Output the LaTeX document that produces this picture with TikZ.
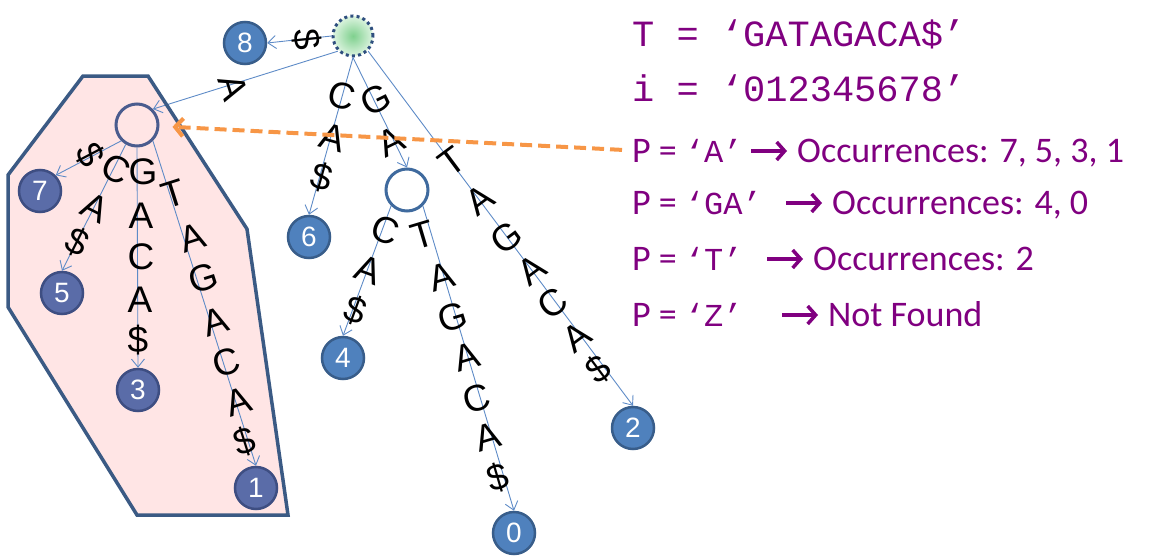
\documentclass[tikz,border=0pt]{standalone}
\usepackage{fontspec}
\setmainfont{Liberation Sans}
\newfontfamily\calib{Carlito}
\newfontfamily\monof{Liberation Mono}
\usetikzlibrary{arrows.meta}
\definecolor{leafblue}{HTML}{4F81BD}
\definecolor{leafborder}{HTML}{385D8A}
\definecolor{leafinblue}{HTML}{5A6CA8}
\definecolor{leafinborder}{HTML}{3E4E82}
\definecolor{edgeblue}{HTML}{5E8BC7}
\definecolor{inborder}{HTML}{3F6A9E}
\definecolor{inborderp}{HTML}{4A5C8E}
\definecolor{polyborder}{HTML}{3B5A84}
\definecolor{polyfill}{HTML}{FFE5E5}
\definecolor{orangeD}{HTML}{F79646}
\definecolor{txtpurple}{HTML}{800080}
\definecolor{rootin}{HTML}{7FD08E}
\definecolor{rootout}{HTML}{DDF4E0}
\definecolor{rootborder}{HTML}{2F4F7F}
\newcommand\mtx[1]{{\monof\fontsize{32}{32}\selectfont ‘#1’}}
\begin{document}
\begin{tikzpicture}[x=1pt,y=-1pt,
  leaf/.style={circle, draw=leafborder, line width=2.5pt, fill=leafblue, minimum size=42pt, inner sep=0pt, text=white, font=\fontsize{28}{28}\selectfont},
  leafin/.style={leaf, draw=leafinborder, fill=leafinblue},
  inode/.style={circle, draw=inborder, line width=3pt, fill=white, minimum size=42pt, inner sep=0pt},
  inodep/.style={inode, draw=inborderp, fill=polyfill},
  rootnode/.style={circle, shade, inner color=rootin, outer color=rootout, draw=rootborder, line width=3pt, dash pattern=on 3pt off 3.2pt, minimum size=40pt, inner sep=0pt},
  edge/.style={draw=edgeblue, line width=0.9pt, -{Straight Barb[length=8pt,width=13pt]}},
  lab/.style={inner sep=0pt, font=\fontsize{37}{37}\selectfont},
  txt/.style={inner sep=0pt, anchor=base west, text=txtpurple, font=\calib\fontsize{36}{36}\selectfont},
  parr/.style={draw=txtpurple, line width=3.5pt, -{Straight Barb[length=8pt,width=18pt]}},
  oarrow/.style={draw=orangeD, line width=4pt, dash pattern=on 12pt off 6pt, -{Straight Barb[length=8pt,width=18pt]}}
]
\useasboundingbox (0,0) rectangle (1149,557);

% highlighted subtree (background)
\fill[polyfill] (83,76) -- (148,76) -- (247,229) -- (288,515) -- (137,515) -- (8,307) -- (8,175) -- cycle;

% nodes
\node[rootnode] (root) at (353,36) {};
\node[inodep] (nA) at (137,125) {};
\node[inode] (nGA) at (407,190) {};
\node[leaf] (n8) at (245,43) {8};
\node[leafin] (n7) at (40,191) {7};
\node[leafin] (n5) at (62,293) {5};
\node[leafin] (n3) at (138,390) {3};
\node[leafin] (n1) at (256,488) {1};
\node[leaf] (n6) at (309,237) {6};
\node[leaf] (n4) at (343,358) {4};
\node[leaf] (n0) at (514,533) {0};
\node[leaf] (n2) at (633,428) {2};

% edges
\draw[edge] (root.west) -- (n8.east);
\draw[edge] (root.south west) -- (nA.north east);
\draw[edge] (root.south) -- (n6.north);
\draw[edge] (root.south) -- (nGA.north);
\draw[edge] (root.south east) -- (n2.north);
\draw[edge] (nA.south west) -- (n7.north east);
\draw[edge] (nA.240) -- (n5.north);
\draw[edge] (nA.south) -- (n3.north);
\draw[edge] (nA.south east) -- (n1.north);
\draw[edge] (nGA.south west) -- (n4.north);
\draw[edge] (nGA.south east) -- (n0.north);

% edge letters
\node[lab, rotate=-84] (ea1) at (307,39) {\$};
\node[lab, rotate=-72.6] (eb1) at (233,87) {A};
\foreach \c/\x/\y [count=\i] in {C/342/96, A/333/138, \$/322/177}
  \node[lab, rotate=-15.6] (ec\i) at (\x,\y) {\c};
\foreach \c/\x/\y [count=\i] in {G/376/100, A/391/142}
  \node[lab, rotate=26.1] (ed\i) at (\x,\y) {\c};
\foreach \c/\x/\y [count=\i] in {T/452/162, A/480/200, G/506/238, A/532/270, C/553/303, A/577/337, \$/598/369}
  \node[lab, rotate=36.7] (ee\i) at (\x,\y) {\c};
\node[lab, rotate=-62.4] (ef1) at (90,155) {\$};
\foreach \c/\x/\y [count=\i] in {C/116/169, A/95/208, \$/77/242}
  \node[lab, rotate=-26.7] (eg\i) at (\x,\y) {\c};
\foreach \c/\x/\y [count=\i] in {G/143/172, A/141/216, C/141/257, A/140/300, \$/138/340}
  \node[lab] (eh\i) at (\x,\y) {\c};
\foreach \c/\x/\y [count=\i] in {T/173/194, A/192/238, G/203/278, A/215/322, C/226/362, A/238/402, \$/245/442}
  \node[lab, rotate=17.6] (ei\i) at (\x,\y) {\c};
\foreach \c/\x/\y [count=\i] in {C/385/230, A/368/270, \$/355/310}
  \node[lab, rotate=-20.3] (ej\i) at (\x,\y) {\c};
\foreach \c/\x/\y [count=\i] in {T/423/235, A/442/277, G/453/317, A/467/357, C/477/398, A/488/437, \$/498/478}
  \node[lab, rotate=16.6] (ek\i) at (\x,\y) {\c};

% highlighted subtree border
\draw[polyborder, line width=3.5pt, line join=miter] (83,76) -- (148,76) -- (247,229) -- (288,515) -- (137,515) -- (8,307) -- (8,175) -- cycle;

% text
\node[txt, font=\monof\fontsize{37}{37}\selectfont] (l1) at (632,46) {T = ‘GATAGACA\$’};
\node[txt, font=\monof\fontsize{37}{37}\selectfont] (l2) at (632,101) {i = ‘012345678’};
\node[txt] (l3a) at (632,162) {P = \mtx{A}};
\node[txt] (l3b) at (797,162) {Occurrences: 7, 5, 3, 1};
\node[txt] (l4a) at (632,214) {P = \mtx{GA}};
\node[txt] (l4b) at (832,214) {Occurrences: 4, 0};
\node[txt] (l5a) at (632,270) {P = \mtx{T}};
\node[txt] (l5b) at (813,270) {Occurrences: 2};
\node[txt] (l6a) at (632,326) {P = \mtx{Z}};
\node[txt] (l6b) at (828,326) {Not Found};
\foreach \r in {3,4,5,6}
  \draw[parr] ([xshift=-46pt,yshift=11pt]l\r b.base west) -- ([xshift=-10pt,yshift=11pt]l\r b.base west);

% orange pointer
\draw[oarrow, shorten <=10pt, shorten >=13pt] (l3a.west) -- (nA);
\end{tikzpicture}
\end{document}
